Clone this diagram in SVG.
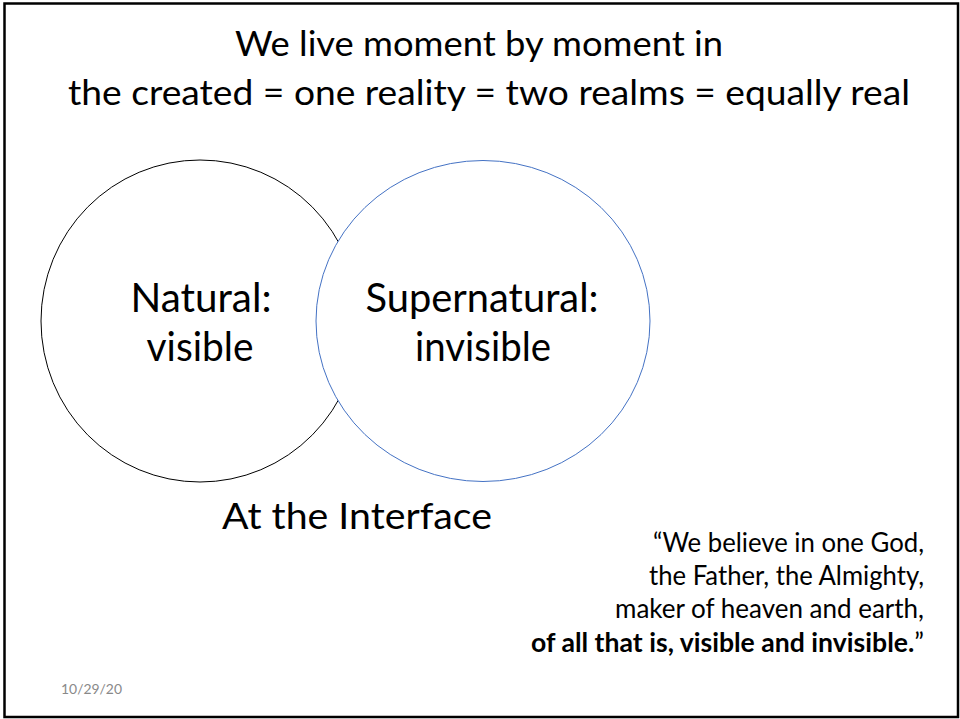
<svg xmlns="http://www.w3.org/2000/svg" width="960" height="719" viewBox="0 0 960 719">
<style>
text{font-family:Lato,"Open Sans","Liberation Sans",sans-serif;fill:#000}
.t{font-size:34px;text-anchor:middle}
.n{font-size:40px;text-anchor:middle}
.q{font-size:26px;text-anchor:end}
.d{font-size:14px;fill:#898989}
</style>
<rect x="0" y="0" width="960" height="719" fill="#fff"/>
<rect x="4.5" y="3.5" width="953.5" height="713.5" fill="none" stroke="#000" stroke-width="2.5"/>
<g id="title">
<text class="t" x="479" y="56" textLength="488" lengthAdjust="spacingAndGlyphs">We live moment by moment in</text>
<text class="t" x="489" y="105" textLength="842" lengthAdjust="spacingAndGlyphs">the created = one reality = two realms = equally real</text>
</g>
<g id="natural">
<ellipse cx="200" cy="321" rx="159" ry="161" fill="#fff" stroke="#000" stroke-width="1"/>
<text class="n" x="201" y="312" textLength="141" lengthAdjust="spacingAndGlyphs">Natural:</text>
<text class="n" x="200" y="361" textLength="107" lengthAdjust="spacingAndGlyphs">visible</text>
</g>
<g id="supernatural">
<ellipse cx="483" cy="321" rx="167" ry="160.5" fill="#fff" stroke="#4472C4" stroke-width="1"/>
<text class="n" x="482" y="312" textLength="233" lengthAdjust="spacingAndGlyphs">Supernatural:</text>
<text class="n" x="483" y="361" textLength="136" lengthAdjust="spacingAndGlyphs">invisible</text>
</g>
<g id="interface">
<text x="357" y="529" font-size="36" text-anchor="middle" textLength="270" lengthAdjust="spacingAndGlyphs">At the Interface</text>
</g>
<g id="quote">
<text class="q" x="924" y="552" textLength="271" lengthAdjust="spacingAndGlyphs">“We believe in one God,</text>
<text class="q" x="924" y="585" textLength="275" lengthAdjust="spacingAndGlyphs">the Father, the Almighty,</text>
<text class="q" x="924" y="618" textLength="309" lengthAdjust="spacingAndGlyphs">maker of heaven and earth,</text>
<text class="q" x="924" y="652" textLength="393" lengthAdjust="spacingAndGlyphs"><tspan font-weight="bold">of all that is, visible and invisible.</tspan>”</text>
</g>
<g id="date">
<text class="d" x="61" y="694" textLength="61" lengthAdjust="spacingAndGlyphs">10/29/20</text>
</g>
</svg>
